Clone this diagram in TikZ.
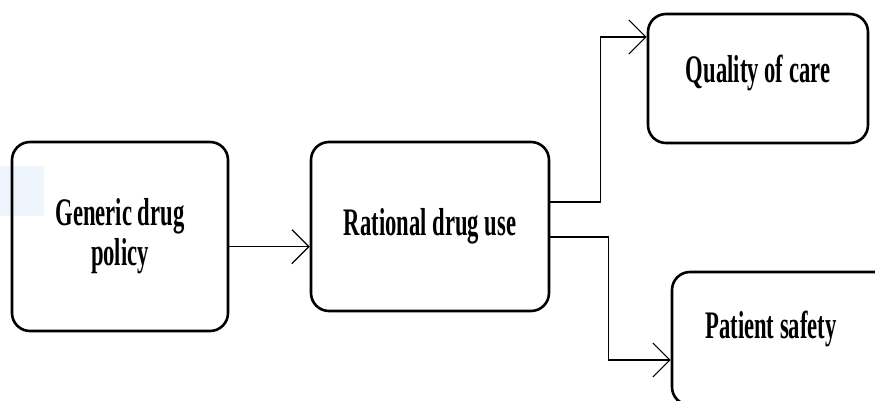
\documentclass[tikz,border=0pt]{standalone}
\usepackage{fontspec}
\setmainfont{Liberation Serif}[FakeStretch=0.58]
\usepackage{tikz}
\usetikzlibrary{positioning, arrows.meta, calc}
\definecolor{faintblue}{RGB}{238,245,253}
\tikzset{
  flow/.style={
	x=1pt, y=1pt,
	node distance=310pt, % distance between the centres of two boxes
	every node/.style={font=\fontsize{39}{40}\selectfont\bfseries, align=center},
  },
  box/.style={draw, line width=2.6pt, rounded corners=18pt, inner sep=0pt}, % the rounded boxes
  conn/.style={line width=1.4pt, -{Straight Barb[length=17pt, width=34pt, line width=1.2pt]}}, % the connectors
}

\begin{document}
\begin{tikzpicture}[flow]
\useasboundingbox (0,0) rectangle (875,400);
\clip (0,0) rectangle (875,400);
\fill[faintblue] (0,184) rectangle (44,234);

\node[box, minimum width=216pt, minimum height=189pt] at (120,163.5) (A) {Generic drug\\policy};
\node[box, right of=A, xshift=0pt, yshift=10pt, minimum width=238pt, minimum height=169pt, text depth=10pt] (B) {Rational drug use};
\node[box, right of=B, xshift=18pt, yshift=148pt, minimum width=220pt, minimum height=129pt, text depth=20pt] (C) {Quality of care};
\node[box, right of=B, xshift=42pt, yshift=-112pt, minimum width=220pt, minimum height=133pt, text depth=28pt] (D) {Patient safety\hspace*{22pt}};

\draw[conn] ([yshift=-10.2pt]A.east) -- ([yshift=-10.2pt]A.east -| B.west);
\draw[conn] ([yshift=24.5pt]B.east) -- ++(50,0) |- ([yshift=41.5pt]C.west);
\draw[conn] ([yshift=-10.5pt]B.east) -- ++(58,0) |- ([yshift=-21.5pt]D.west);
\end{tikzpicture}
\end{document}
